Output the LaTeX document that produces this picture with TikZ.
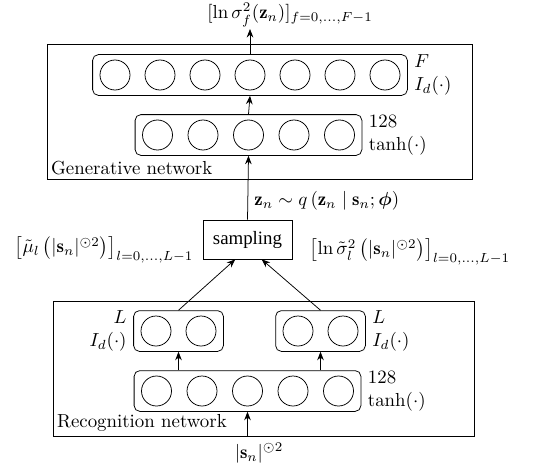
\documentclass[tikz,border=0pt]{standalone}
\usepackage{amsmath}
\usepackage{amssymb}
\usepackage{bm}
\usepackage{fontspec}
\newfontfamily\samplingfont{Liberation Serif}
\usetikzlibrary{fit,arrows.meta}
\newcommand\pxu{0.53}

\begin{document}
\begin{tikzpicture}[x=\pxu pt,y=-\pxu pt,>={Stealth[length=4.5pt,width=3.5pt]},
	unit/.style={draw,circle,minimum size=\pxu*30pt,inner sep=0pt},
	layer/.style={draw,rounded corners=3pt,inner xsep=\pxu*7pt,inner ysep=\pxu*5pt},
	lblright/.style={align=left,anchor=west},
	lblleft/.style={align=right,anchor=east}]
	\useasboundingbox (0,0) rectangle (548,469);
	
	% generative network
	\draw (47,44) rectangle (472,179);
	\node[anchor=south west,inner sep=2pt] (genlbl) at (47,179) {Generative network};
	\foreach \i in {1,...,7}
		\node[unit] (g\i) at (70+45*\i,75) {};
	\node[layer,fit=(g1)(g7)] (gout) {};
	\foreach \i in {1,...,5}
		\node[unit] (h\i) at (112+45.5*\i,135) {};
	\node[layer,fit=(h1)(h5)] (ghid) {};
	\node[lblright] (goutlbl) at (gout.east) {$F$\\$I_d(\cdot)$};
	\node[lblright] (ghidlbl) at (ghid.east) {$128$\\$\tanh(\cdot)$};
	
	\node (glbl) at (290,15) {$[\ln\sigma_f^2(\mathbf{z}_n)]_{f=0,\ldots,F-1}$};
	\coordinate (gtop) at (250,29);
	\draw[->] (gout.north) -- (gout.north |- gtop);
	\draw[->] (ghid.north) -- (gout.south);
	
	% sampling
	\node[draw,minimum width=\pxu*89pt,minimum height=\pxu*39pt,font=\samplingfont] (samp) at (247.5,239.5) {sampling};
	\draw[->] (samp.north) -- (ghid.south)
		node[pos=0.3,anchor=west] (zlbl) {$\mathbf{z}_n\sim q\left(\mathbf{z}_n\mid\mathbf{s}_n;\bm{\phi}\right)$};
	
	% recognition network
	\draw (53,301) rectangle (474,436);
	\node[anchor=south west,inner sep=2pt] (reclbl) at (53,436) {Recognition network};
	\foreach \i in {1,...,5}
		\node[unit] (r\i) at (111+45.5*\i,391) {};
	\node[layer,fit=(r1)(r5)] (rhid) {};
	\foreach \x/\i in {156/1,201/2}
		\node[unit] (m\i) at (\x,331) {};
	\node[layer,fit=(m1)(m2)] (rmu) {};
	\foreach \x/\i in {298/1,343/2}
		\node[unit] (v\i) at (\x,331) {};
	\node[layer,fit=(v1)(v2)] (rvar) {};
	\node[lblleft] (rmulbl) at (rmu.west) {$L$\\$I_d(\cdot)$};
	\node[lblright] (rvarlbl) at (rvar.east) {$L$\\$I_d(\cdot)$};
	\node[lblright] (rhidlbl) at (rhid.east) {$128$\\$\tanh(\cdot)$};
	
	\draw[->] (rmu.south |- rhid.north) -- (rmu.south);
	\draw[->] (rvar.south |- rhid.north) -- (rvar.south);
	\draw[->] (rmu.north) -- ([xshift=-6.5pt]samp.south);
	\draw[->] (rvar.north) -- ([xshift=7.5pt]samp.south);
	\node[anchor=west] (mulbl) at (8,250) {$\left[\tilde{\mu}_l\left(|\mathbf{s}_n|^{\odot 2}\right)\right]_{l=0,\ldots,L-1}$};
	\node[anchor=west] (varlbl) at (303,252) {$\left[\ln\tilde{\sigma}_l^2\left(|\mathbf{s}_n|^{\odot 2}\right)\right]_{l=0,\ldots,L-1}$};
	
	\node (input) at (259,453) {$|\mathbf{s}_n|^{\odot 2}$};
	\draw[->] (rhid.south |- input.north) -- (rhid.south);
\end{tikzpicture}
\end{document}
